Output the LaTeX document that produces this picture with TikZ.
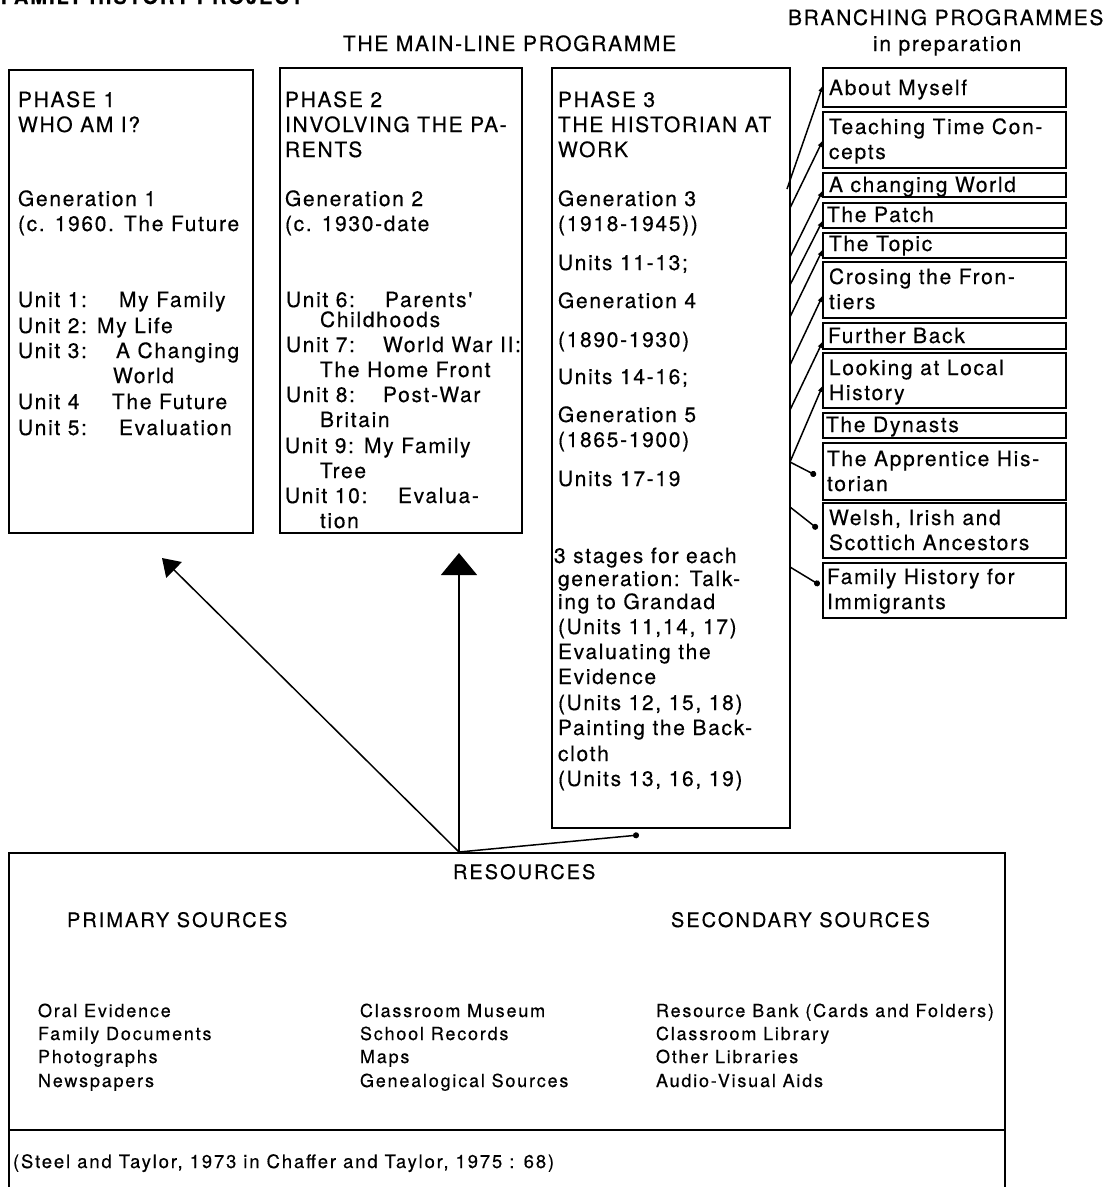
\documentclass[tikz,border=0pt]{standalone}
\usepackage{fontspec}
\setmainfont{TeX Gyre Heros}[LetterSpace=10,FakeBold=0.4]
\newfontfamily\mainf{TeX Gyre Heros}[LetterSpace=8,FakeBold=0.4]
\usetikzlibrary{arrows.meta,calc}
\begin{document}
\begin{tikzpicture}[x=1pt,y=-1pt,
  every node/.style={inner sep=0pt, outer sep=0pt},
  txt/.style={anchor=base west, font=\fontsize{21}{25}\selectfont\mainf},
  head/.style={anchor=base west, font=\fontsize{20}{24}\selectfont},
  small/.style={anchor=base west, font=\fontsize{18}{22}\selectfont},
  box/.style={draw, line width=1.8pt, rectangle, anchor=north west},
  bbox/.style={draw, line width=1.8pt, rectangle, anchor=north west, minimum width=243pt},
  conn/.style={line width=1.5pt, -{Latex[length=7pt,width=5pt]}},
  dotc/.style={line width=1.5pt, -{Circle[length=6pt]}},
  resline/.style={line width=1.8pt}
]
\useasboundingbox (0,0) rectangle (1111,1187);
\clip (0,0) rectangle (1111,1187);
\fill[white] (0,0) rectangle (1111,1187);

% titles
\node[anchor=base west, font=\fontsize{20}{24}\selectfont\bfseries] (title) at (1,4) {FAMILY HISTORY PROJECT};
\node[txt] (ml) at (343,51) {THE MAIN-LINE PROGRAMME};
\node[txt] (br) at (788,25) {BRANCHING PROGRAMMES};
\node[txt] (ip) at (873,51) {in preparation};

% main boxes
\node[box, minimum width=244pt, minimum height=463pt] (p1) at (9,70) {};
\node[box, minimum width=242pt, minimum height=465pt] (p2) at (280,68) {};
\node[box, minimum width=238pt, minimum height=760pt] (p3) at (552,68) {};

% phase 1 text
\foreach \x/\y/\t [count=\i] in {
  18/107/PHASE 1, 18/132/WHO AM I?,
  18/206/Generation 1, 18/231/(c. 1960. The Future,
  18/307/Unit 1:, 119/307/My Family,
  18/333/Unit 2: My Life,
  18/358/Unit 3:, 116/358/A Changing,
  113/383/World,
  18/409/Unit 4, 112/409/The Future,
  18/435/Unit 5:, 119/435/Evaluation}
  \node[txt] (pa\i) at (\x,\y) {\t};

% phase 2 text
\foreach \x/\y/\t [count=\i] in {
  285/107/PHASE 2, 285/132/INVOLVING THE PA-, 285/157/RENTS,
  285/206/Generation 2, 285/231/(c. 1930-date,
  286/307/Unit 6:, 385/307/Parents',
  320/327/Childhoods,
  286/352/Unit 7:, 383/352/World War II:,
  320/377/The Home Front,
  286/402/Unit 8:, 383/402/Post-War,
  320/427/Britain,
  285/453/Unit 9: My Family,
  320/478/Tree,
  285/503/Unit 10:, 398/503/Evalua-,
  320/528/tion}
  \node[txt] (pb\i) at (\x,\y) {\t};

% phase 3 text
\foreach \x/\y/\t [count=\i] in {
  558/107/PHASE 3, 558/132/THE HISTORIAN AT, 558/157/WORK,
  558/206/Generation 3, 558/231/(1918-1945)),
  558/270/Units 11-13;,
  558/308/Generation 4,
  558/347/(1890-1930),
  558/384/Units 14-16;,
  558/422/Generation 5,
  558/447/(1865-1900),
  558/486/Units 17-19,
  554/563/3 stages for each,
  558/586/generation: Talk-,
  558/609/ing to Grandad,
  558/634/{(Units 11,14, 17)},
  558/659/Evaluating the,
  558/684/Evidence,
  558/710/{(Units 12, 15, 18)},
  558/735/Painting the Back-,
  558/761/cloth,
  558/786/{(Units 13, 16, 19)}}
  \node[txt] (pc\i) at (\x,\y) {\t};

% branching boxes
\node[bbox, minimum height=39pt] (b1) at (823,68) {};
\node[bbox, minimum height=56pt] (b2) at (823,112) {};
\node[bbox, minimum height=24pt] (b3) at (823,173) {};
\node[bbox, minimum height=25pt] (b4) at (823,203) {};
\node[bbox, minimum height=25pt] (b5) at (823,233) {};
\node[bbox, minimum height=56pt] (b6) at (823,262) {};
\node[bbox, minimum height=26pt] (b7) at (823,323) {};
\node[bbox, minimum height=55pt] (b8) at (823,353) {};
\node[bbox, minimum height=25pt] (b9) at (823,413) {};
\node[bbox, minimum height=57pt] (b10) at (823,443) {};
\node[bbox, minimum height=55pt] (b11) at (823,503) {};
\node[bbox, minimum height=55pt] (b12) at (823,563) {};

\foreach \x/\y/\t [count=\i] in {
  829/95/About Myself,
  829/134/Teaching Time Con-, 829/159/cepts,
  829/192/A changing World,
  827/222/The Patch,
  829/251/The Topic,
  829/284/Crosing the Fron-, 829/309/tiers,
  828/343/Further Back,
  829/375/Looking at Local, 829/400/History,
  826/432/The Dynasts,
  827/466/The Apprentice His-, 827/491/torian,
  829/525/{Welsh, Irish and}, 829/550/Scottich Ancestors,
  827/584/Family History for, 827/609/Immigrants}
  \node[txt] (bt\i) at (\x,\y) {\t};

% connectors to branching programmes
\draw[conn] ($(p3.east |- 0,189)+(-3,0)$) -- (b1.west |- 0,85);
\draw[conn] (p3.east |- 0,208) -- (b2.west |- 0,140);
\draw[conn] (p3.east |- 0,257) -- (b3.west |- 0,190);
\draw[conn] (p3.east |- 0,285) -- (b4.west |- 0,220);
\draw[conn] (p3.east |- 0,317) -- (b5.west |- 0,249);
\draw[conn] (p3.east |- 0,365) -- (b6.west |- 0,295);
\draw[conn] (p3.east |- 0,410) -- (b7.west |- 0,341);
\draw[conn] (p3.east |- 0,462) -- (b8.west |- 0,385);
\draw[dotc, shorten >=8pt] (p3.east |- 0,462) -- (b10.west |- 0,479);
\draw[dotc, shorten >=7pt] (p3.east |- 0,507) -- (b11.west |- 0,533);
\draw[dotc, shorten >=4pt] (p3.east |- 0,567) -- (b12.west |- 0,587);

% resources box
\node[minimum width=996pt, minimum height=400pt, anchor=north west] (res) at (9,853) {};
\draw[resline] (res.south west) -- (res.north west) -- (res.north east) -- (res.south east);
\draw[resline] (res.west |- 0,1130) -- (res.east |- 0,1130);

\node[head] (rs) at (453,879) {RESOURCES};
\node[head] (ps) at (67,927) {PRIMARY SOURCES};
\node[head] (ss) at (671,927) {SECONDARY SOURCES};

\foreach \x/\y/\t [count=\i] in {
  38/1017/Oral Evidence, 38/1040/Family Documents, 38/1063/Photographs, 38/1087/Newspapers,
  360/1017/Classroom Museum, 360/1040/School Records, 360/1063/Maps, 360/1087/Genealogical Sources,
  656/1017/Resource Bank (Cards and Folders), 656/1040/Classroom Library, 656/1063/Other Libraries, 656/1087/Audio-Visual Aids}
  \node[small] (rt\i) at (\x,\y) {\t};

\node[anchor=base west, font=\fontsize{18.5}{22}\selectfont] (cite) at (13,1168) {(Steel and Taylor, 1973 in Chaffer and Taylor, 1975 : 68)};

% arrows from resources
\coordinate (rj) at (459,852);
\coordinate (t1) at (162,558);
\coordinate (t2) at (459,553);
\coordinate (t3) at (639,835);
\draw[line width=1.5pt, -{Triangle[length=17pt,width=22pt]}] (rj) -- (t1);
\draw[line width=1.5pt, -{Triangle[length=22pt,width=36pt]}] (rj) -- (t2);
\draw[dotc] (rj) -- (t3);
\end{tikzpicture}
\end{document}
